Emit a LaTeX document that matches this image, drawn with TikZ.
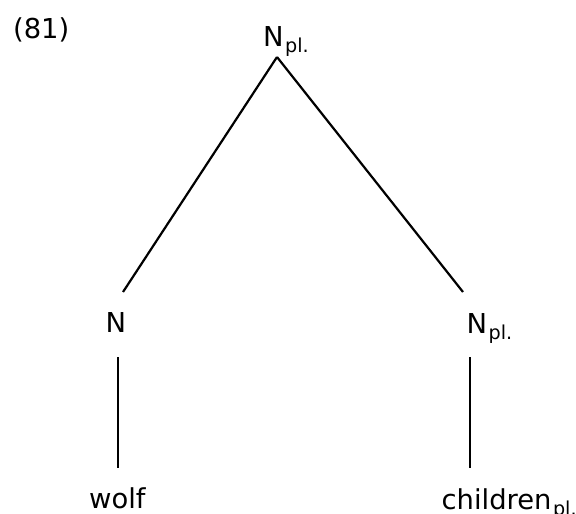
\documentclass[tikz,border=0pt]{standalone}
\usepackage{fontspec}
\setmainfont{DejaVu Sans}
\newcommand{\plsub}{\kern1.5pt\textsubscript{pl.}}

\begin{document}
\begin{tikzpicture}[x=1pt, y=1pt, line width=2.2pt,
  every node/.style={font=\fontsize{27.4}{32}\selectfont, inner sep=0pt, anchor=base west}]
\useasboundingbox (0,0) rectangle (576,-514);
% example number
\node (num) at (12,-38) {(81)};
% labels
\node (top) at (262,-46) {N\plsub};
\node (leftN) at (104.5,-332) {N};
\node (rightN) at (465.5,-333) {N\plsub};
\node (wolf) at (88,-508) {wolf};
\node (child) at (440.5,-509) {children\plsub};
% line ends
\coordinate (apex) at (277,-57);
\coordinate (leftend) at (123,-292);
\coordinate (rightend) at (463,-292);
\coordinate (lefttop) at (118,-357);
\coordinate (leftbot) at (118,-468);
\coordinate (righttop) at (470,-357);
\coordinate (rightbot) at (470,-468);
% branches
\draw (apex) -- (leftend);
\draw (apex) -- (rightend);
\draw (lefttop) -- (leftbot);
\draw (righttop) -- (rightbot);
\end{tikzpicture}
\end{document}
